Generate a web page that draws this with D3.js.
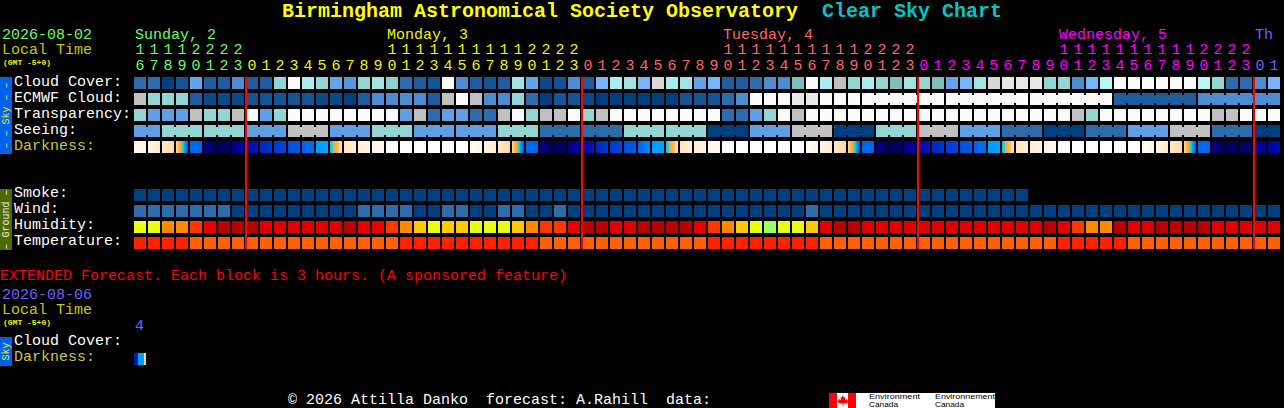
<!DOCTYPE html>
<html>
<head>
<meta charset="utf-8">
<title>Clear Sky Chart</title>
<script src="https://cdn.jsdelivr.net/npm/d3@7"></script>
<style>
html, body { margin: 0; padding: 0; background: #000; }
svg { display: block; }
text { font-family: "Liberation Mono", monospace; font-size: 15px; }
</style>
</head>
<body>
<div id="chart"></div>
<script>
const hours = [16,17,18,19,20,21,22,23,
	0,1,2,3,4,5,6,7,8,9,10,11,12,13,14,15,16,17,18,19,20,21,22,23,
	0,1,2,3,4,5,6,7,8,9,10,11,12,13,14,15,16,17,18,19,20,21,22,23,
	0,1,2,3,4,5,6,7,8,9,10,11,12,13,14,15,16,17,18,19,20,21,22,23,
	0,1];
const dayLabels = ["Sunday, 2", "Monday, 3", "Tuesday, 4", "Wednesday, 5", "Th"];
const dayLabelCols = [0, 18, 42, 66, 80];
const dayFirstCols = [0, 8, 32, 56, 80];

// percent of sky covered
const cloudCover = [20,20,0,10,40,15,15,30,15,15,65,100,75,65,40,35,65,70,60,20,15,
	10,100,30,15,10,15,70,40,5,10,30,15,50,75,70,50,90,75,70,40,50,15,15,20,30,30,55,100,75,85,65,
	75,65,55,70,65,55,40,50,70,90,95,95,95,65,65,30,50,80,100,100,100,100,100,100,80,65,20,20,30,50];
const ecmwfCloud = [85,65,65,65,15,5,5,5,10,10,10,10,10,5,5,0,15,30,30,30,30,
	15,85,100,85,30,30,65,20,0,10,10,5,0,0,0,0,0,0,10,10,10,20,30,100,100,100,95,95,100,100,100,
	100,100,100,100,100,100,100,100,100,100,100,100,100,100,100,100,100,100,15,15,15,15,15,15,30,30,30,30,30,30];
// 0 best .. 5 cloudy
const transparency = [3,2,2,2,4,3,3,4,5,2,3,5,5,5,5,5,5,5,5,2,4,
	1,2,2,1,1,4,5,3,4,4,5,3,4,5,5,5,5,5,5,5,5,1,1,2,3,5,4,5,5,5,5,
	5,5,5,5,5,5,5,5,5,5,5,5,5,5,5,4,3,5,5,5,5,5,5,5,5,4,4,5,5,5];
const seeing = [2,2,3,3,3,3,3,3,2,2,2,4,4,4,2,2,2,3,3,3,2,
	2,2,2,2,2,3,3,3,1,1,1,1,1,1,3,3,3,3,3,3,0,0,0,2,2,2,4,4,4,0,0,
	0,3,3,3,4,4,4,2,2,2,1,1,1,0,0,0,1,1,1,2,2,2,4,4,4,1,1,1,0,0];
// sky darkness samples across each block, negative is daylight
const darkness = [[-3.7,-3.1],[-3,-2.5],[-2.4,-1.8],[-1.8,-1.4,-1,-0.9,-0.1,0.9,2,2.1],[2.2,2.3],[5.6,6.5],[6.7,6.6],[5.6,5],
	[5,4.5],[4.2,3.8],[3.6,3.3],[3,2.7],[2.4,2.1],[1.1,0.9],[0.4,-0.2,-0.9,-1.1,-1.3,-1.8,-2],[-2,-2.6],[-2.6,-3],[-3,-3.6],[-3.6,-4],[-4,-4],[-4,-4],
	[-4,-4],[-4,-4],[-4,-4],[-3.7,-3.1],[-3,-2.5],[-2.4,-1.8],[-1.8,-1.4,-1,-0.9,-0.1,0.9,2,2.1],[2.2,2.3],[5.6,6.5],[6.7,6.6],[5.6,5],
	[5,4.5],[4.2,3.8],[3.6,3.3],[3,2.7],[2.4,1.4],[1.1,0.9],[0.4,-0.2,-0.9,-1.1,-1.3,-1.8,-2],[-2,-2.6],[-2.6,-3],[-3,-3.6],[-3.6,-4],[-4,-4],[-4,-4],
	[-4,-4],[-4,-4],[-4,-4],[-3.7,-3.1],[-3,-2.5],[-2.4,-1.8],[-1.8,-1.4,-1,-0.9,-0.1,0.9,2,2.1],[2.2,2.3],[5.6,6.5],[6.7,6.6],[5.6,5],
	[5,4.5],[4.2,3.8],[3.6,3.3],[3,2.7],[2.4,2.1],[1.1,0.9],[0.4,-0.2,-0.9,-1.1,-1.3,-1.8,-2],[-2,-2.6],[-2.6,-3],[-3,-3.6],[-3.6,-4],[-4,-4],[-4,-4],
	[-4,-4],[-4,-4],[-4,-4],[-3.7,-3.1],[-3,-2.5],[-2.4,-1.8],[-1.8,-1.4,-1,-0.9,-0.1,0.9,2,2.1],[2.2,2.3],[5.6,6.5],[6.7,6.6],[6.6,6.4],[5.4,5.2],[5,4.8]];
const smoke = [0,0,0,0,0,0,0,0,0,0,0,0,0,0,0,0,0,0,0,0,0,0,0,0,0,0,0,0,0,0,0,0,
	0,0,0,0,0,0,0,0,0,0,0,0,0,0,0,0,0,0,0,0,0,0,0,0,0,0,0,0,0,0,0,0];
// mph
const wind = [8,8,8,8,8,8,8,3,3,3,3,3,3,3,3,3,8,8,8,8,3,
	3,8,8,3,3,8,8,3,3,8,3,3,3,3,3,3,3,3,3,3,3,3,3,3,3,3,3,8,3,3,3,
	3,3,3,3,3,3,3,3,3,3,3,3,3,3,3,3,3,3,3,3,3,3,3,3,3,3,3,3,3,3];
// percent relative humidity
const humidity = [60,60,75,75,85,92,100,100,100,95,95,95,95,95,95,100,92,92,85,75,65,
	60,65,65,60,60,60,65,75,85,85,92,100,100,95,95,100,100,100,100,92,85,75,65,60,50,60,60,65,95,100,100,
	95,95,95,95,95,95,95,95,95,95,95,95,95,100,92,85,75,75,100,95,95,100,100,100,100,95,95,95,95,95];
// degrees C
const temperature = [27,27,27,27,24,24,24,24,24,24,24,24,24,24,24,24,24,24,24,27,27,
	27,27,27,27,27,27,27,27,24,24,24,24,24,24,24,24,24,24,24,24,27,27,27,27,27,27,27,27,24,24,24,
	24,24,24,24,24,24,24,24,24,24,24,24,24,24,27,27,27,27,27,24,24,24,24,24,24,24,24,24,24,24];
const extendedDarkness = [[4.5,4.5,1,1,1,-1.7]];

const width = 1284, height = 408;
const dayColors = ["#66ff66", "#f4f400", "#ff6666", "#ff00ff", "#6666ff"];

const cloudColor = d3.scaleOrdinal()
	.domain([0,5,10,15,20,30,35,40,50,55,60,65,70,75,80,85,90,95,100])
	.range(["#003f7f","#0a4a86","#135494","#1f5c9e","#2c6caa","#4c8dcf","#5599dc","#63a5e9","#78b4fa","#80bdbd","#8ed0ce","#93d5d3","#a0e3e0","#a8eeee","#b8f5f5","#c0c0c0","#d8d8d8","#e8e8e8","#fbfbfb"]);
const skyColor = d3.scaleOrdinal()
	.domain([0,1,2,3,4,5])
	.range(["#003f7f","#2c6caa","#5fa0e5","#93d5d3","#c0c0c0","#fbfbfb"]);
const darkColor = d3.scaleLinear()
	.domain([-4,-3,-2,-1,0,1,2,3,4,5,6,7])
	.range(["#ffffff","#fff5e6","#fde3bc","#ffa830","#00d8f0","#00a0ff","#0070f0","#0050e0","#0030c8","#0000a8","#000070","#000050"]);
const smokeColor = d3.scaleOrdinal().domain([0]).range(["#003f7f"]);
const windColor = d3.scaleThreshold().domain([6]).range(["#003f7f", "#2c6caa"]);
const humidityColor = d3.scaleOrdinal()
	.domain([50,60,65,75,85,92,95,100])
	.range(["#99ff66","#e8ff10","#ffc800","#ff8800","#ff3800","#e80000","#e00000","#b80000"]);
const tempColor = d3.scaleThreshold().domain([26]).range(["#ff6000", "#ff2000"]);

const x = d3.scaleBand()
	.domain(d3.range(hours.length))
	.range([134, 134 + hours.length * 14 - 2])
	.paddingInner(2 / 14);
const skyY = d3.scaleBand()
	.domain(["Cloud Cover:", "ECMWF Cloud:", "Transparency:", "Seeing:", "Darkness:"])
	.range([77, 153])
	.paddingInner(0.25);
const groundY = d3.scaleBand()
	.domain(["Smoke:", "Wind:", "Humidity:", "Temperature:"])
	.range([189, 249])
	.paddingInner(0.25);
const extY = d3.scaleBand()
	.domain(["Cloud Cover:", "Darkness:"])
	.range([337, 365])
	.paddingInner(0.25);

const svg = d3.select("#chart").append("svg")
	.attr("width", width)
	.attr("height", height)
	.style("background", "#000");
const defs = svg.append("defs");

function label(str, px, py, color, size, weight) {
	const t = svg.append("text")
		.attr("x", px)
		.attr("y", py)
		.attr("fill", color)
		.attr("xml:space", "preserve")
		.style("white-space", "pre")
		.text(str);
	if (size) t.style("font-size", size + "px");
	if (weight) t.style("font-weight", weight);
	return t;
}

// one row of blocks, blockStart says where a joined run of blocks begins
function drawRow(values, color, py, blockStart) {
	const g = svg.append("g");
	g.selectAll("rect")
		.data(values)
		.enter()
		.append("rect")
		.attr("x", (d, i) => x(i))
		.attr("y", py)
		.attr("width", x.bandwidth())
		.attr("height", x.bandwidth())
		.attr("fill", d => color(d));
	if (blockStart) {
		// little bridges between blocks of the same forecast value
		g.selectAll("rect.bridge")
			.data(values.slice(1).map((d, i) => ({ i: i, d: values[i] })).filter(o => !blockStart(o.i + 1)))
			.enter()
			.append("rect")
			.attr("class", "bridge")
			.attr("x", o => x(o.i) + x.bandwidth())
			.attr("y", py + 2)
			.attr("width", x.step() - x.bandwidth())
			.attr("height", x.bandwidth() - 4)
			.attr("fill", o => color(o.d));
	}
}

function drawDarkness(values, py, id, hard) {
	const grads = defs.selectAll("linearGradient." + id)
		.data(values)
		.enter()
		.append("linearGradient")
		.attr("class", id)
		.attr("id", (d, i) => id + i);
	grads.each(function (d) {
		const stops = [];
		d.forEach((v, i) => {
			if (hard) {
				stops.push({ o: i / d.length, v: v }, { o: (i + 1) / d.length, v: v });
			} else {
				stops.push({ o: i / (d.length - 1), v: v });
			}
		});
		d3.select(this).selectAll("stop")
			.data(stops)
			.enter()
			.append("stop")
			.attr("offset", s => s.o)
			.attr("stop-color", s => darkColor(s.v));
	});
	svg.append("g").selectAll("rect")
		.data(values)
		.enter()
		.append("rect")
		.attr("x", (d, i) => x(i))
		.attr("y", py)
		.attr("width", x.bandwidth())
		.attr("height", x.bandwidth())
		.attr("fill", (d, i) => `url(#${id}${i})`);
}

// Title
label("Birmingham Astronomical Society Observatory", 282, 17, "#ffff00", 20, "bold");
label("Clear Sky Chart", 822, 17, "#00c8c8", 20, "bold");

// Left header
label("2026-08-02", 2, 39, "#66ff66");
label("Local Time", 2, 54, "#c8c800");
label("(GMT -5+0)", 3, 65, "#f0f000", 8, "bold");

// Day names and hours
dayLabels.forEach((d, i) => {
	label(d, x(dayLabelCols[i]) + 1, 39, dayColors[i]);
});

const dayOf = i => d3.bisectRight(dayFirstCols, i) - 1;
const axisTens = d3.axisTop(x).tickSize(0).tickPadding(0)
	.tickFormat(i => hours[i] >= 10 ? Math.floor(hours[i] / 10) : "");
const axisOnes = d3.axisTop(x).tickSize(0).tickPadding(0)
	.tickFormat(i => hours[i] % 10);
[[axisTens, 54], [axisOnes, 70]].forEach(([axis, py]) => {
	const g = svg.append("g")
		.attr("transform", `translate(0,${py})`)
		.call(axis);
	g.select(".domain").remove();
	g.attr("font-family", null).attr("font-size", null);
	g.selectAll(".tick text").attr("fill", i => dayColors[dayOf(i)]);
});

// Sky rows
drawRow(cloudCover, cloudColor, skyY("Cloud Cover:"));
drawRow(ecmwfCloud, cloudColor, skyY("ECMWF Cloud:"), i => i < 52 || (i - 52) % 6 == 0);
drawRow(transparency, skyColor, skyY("Transparency:"));
drawRow(seeing, skyColor, skyY("Seeing:"), i => (i + 1) % 3 == 0);
drawDarkness(darkness, skyY("Darkness:"), "dark");

// Ground rows
drawRow(smoke, smokeColor, groundY("Smoke:"));
drawRow(wind, windColor, groundY("Wind:"));
drawRow(humidity, humidityColor, groundY("Humidity:"));
drawRow(temperature, tempColor, groundY("Temperature:"));

// Midnight lines
svg.append("g").selectAll("rect")
	.data(dayFirstCols.slice(1))
	.enter()
	.append("rect")
	.attr("x", d => x(d) - 1)
	.attr("y", 77)
	.attr("width", 2)
	.attr("height", 172)
	.attr("fill", "#ff0000");

// Row labels
skyY.domain().forEach(d => {
	label(d, 14, skyY(d) + 9, d == "Darkness:" ? "#c8c83c" : "#ffffff");
});
groundY.domain().forEach(d => {
	label(d, 14, groundY(d) + 8, "#ffffff");
});

// Side bars
function sideBar(y0, y1, color, textColor, str) {
	svg.append("rect")
		.attr("x", 0)
		.attr("y", y0)
		.attr("width", 12)
		.attr("height", y1 - y0)
		.attr("fill", color);
	svg.append("text")
		.attr("transform", `translate(9,${(y0 + y1) / 2}) rotate(-90)`)
		.attr("text-anchor", "middle")
		.attr("fill", textColor)
		.style("font-size", "10px")
		.text(str);
}
sideBar(77, 154, "#0060f0", "#f0f000", "\u2013 \u2013 Sky \u2013 \u2013");
sideBar(189, 250, "#4e6a00", "#f0f0f0", "\u2013 Ground \u2013");

// Extended forecast
label("EXTENDED Forecast. Each block is 3 hours. (A sponsored feature)", 0, 280, "#ff0000");
label("2026-08-06", 2, 299, "#6666ff");
label("Local Time", 2, 314, "#c8c800");
label("(GMT -5+0)", 3, 325, "#f0f000", 8, "bold");
label("4", 135, 330, "#6666ff");
sideBar(337, 366, "#0060f0", "#f0f000", "Sky");
label("Cloud Cover:", 14, 345, "#ffffff");
label("Darkness:", 14, 361, "#c8c83c");
drawDarkness(extendedDarkness, extY("Darkness:"), "extdark", true);

// Footer
label("\u00a9 2026 Attilla Danko  forecast: A.Rahill  data:", 288, 404, "#ffffff");

// Environment Canada logo
const logo = svg.append("g");
defs.append("clipPath").attr("id", "logoClip")
	.append("rect").attr("x", 829).attr("y", 393).attr("width", 166).attr("height", 15);
logo.attr("clip-path", "url(#logoClip)");
logo.append("rect").attr("x", 829).attr("y", 393).attr("width", 166).attr("height", 15).attr("fill", "#fff");
logo.append("rect").attr("x", 829).attr("y", 393).attr("width", 8).attr("height", 15).attr("fill", "#ff0000");
logo.append("rect").attr("x", 848).attr("y", 393).attr("width", 8).attr("height", 15).attr("fill", "#ff0000");
logo.append("path")
	.attr("d", "M842.5 395l1.500 2.500 1.500-.5-.5 3 2-1 .5 1.500 1.500.5-2.500 2.500h-3v2.500h-1v-2.500h-3l-2.500-2.500 1.500-.5.5-1.500 2 1-.5-3 1.500.5z")
	.attr("fill", "#ff0000");
function logoText(str, lx, py, len) {
	logo.append("text")
		.attr("x", lx)
		.attr("y", py)
		.attr("fill", "#000")
		.attr("textLength", len)
		.attr("lengthAdjust", "spacingAndGlyphs")
		.style("font-family", "'Liberation Sans', sans-serif")
		.style("font-size", "7px")
		.text(str);
}
logoText("Environment", 869, 399, 51);
logoText("Canada", 869, 407, 29);
logoText("Environnement", 935, 399, 60);
logoText("Canada", 935, 407, 29);
</script>
</body>
</html>
